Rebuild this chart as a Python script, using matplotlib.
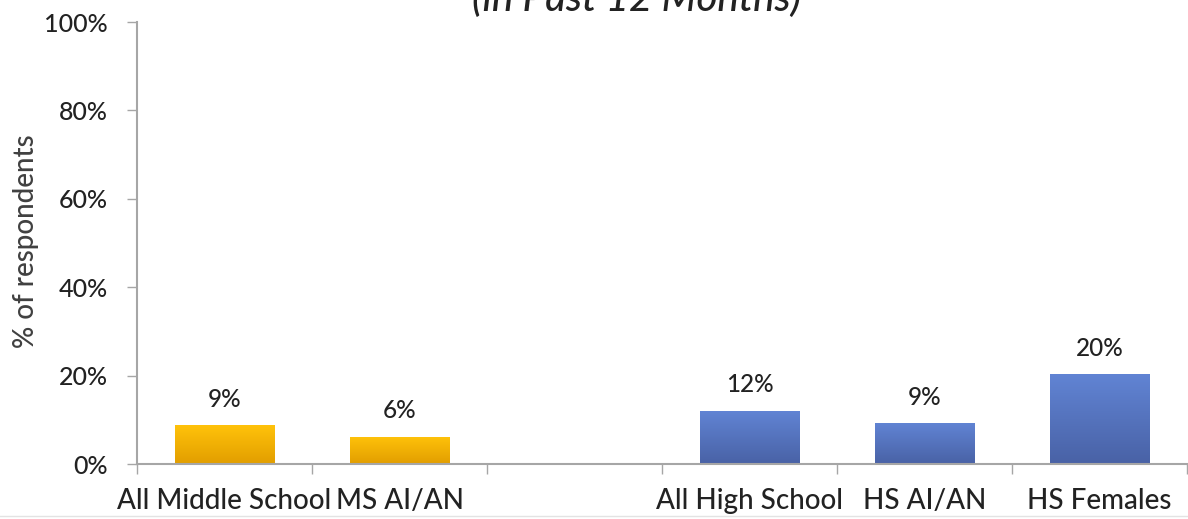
import numpy as np
import matplotlib
matplotlib.use("Agg")
import matplotlib.pyplot as plt
from matplotlib.colors import LinearSegmentedColormap
from matplotlib.lines import Line2D

categories = ["All Middle School", "MS AI/AN", "", "All High School", "HS AI/AN", "HS Females"]
values = [8.8, 6.2, np.nan, 12.1, 9.3, 20.4]
value_labels = ["9%", "6%", "", "12%", "9%", "20%"]
groups = ["ms", "ms", "", "hs", "hs", "hs"]
yticks = [0, 20, 40, 60, 80, 100]
title = "(in Past 12 Months)"
ylabel = "% of respondents"

# top / bottom colours of the gradient fill
grad = {
    "ms": ("#FFC20A", "#E29E00"),
    "hs": ("#6184D4", "#4962A6"),
}

plt.rcParams["font.family"] = ["Lato", "DejaVu Sans"]
TXT = "#222222"

fig = plt.figure(figsize=(11.88, 5.19), dpi=100)
ax = fig.add_axes([137 / 1188, 1 - 464 / 519, 1050 / 1188, 442 / 519])

x = np.arange(len(categories))
bars = ax.bar(x, np.nan_to_num(values), width=0.57, color="none", edgecolor="none", zorder=2)

for b, g, v, lab in zip(bars, groups, values, value_labels):
    if not g:
        continue
    top, bot = grad[g]
    cmap = LinearSegmentedColormap.from_list(g, [bot, top])
    x0, y0 = b.get_x(), b.get_y()
    w, h = b.get_width(), b.get_height()
    img = ax.imshow(np.linspace(0, 1, 64).reshape(-1, 1), cmap=cmap, origin="lower",
                    extent=[x0, x0 + w, y0, y0 + h], aspect="auto", zorder=2)
    img.set_clip_path(b)
    ax.text(x0 + w / 2, h + 3.2, lab, ha="center", va="bottom", fontsize=17.5,
            fontweight="medium", color=TXT)

ax.set_xlim(-0.5, len(categories) - 0.5)
ax.set_ylim(0, 100)

ax.set_yticks(yticks)
ax.set_yticklabels([f"{t}%" for t in yticks], fontsize=18, fontweight="medium", color=TXT)
ax.tick_params(axis="y", length=7, width=1, color="#a6a6a6", pad=14)

ax.set_xticks(x)
ax.set_xticklabels(categories, fontsize=20, fontweight="medium", color=TXT)
ax.tick_params(axis="x", which="major", length=0, pad=17)
ax.set_xticks(np.arange(len(categories) + 1) - 0.5, minor=True)
ax.tick_params(axis="x", which="minor", length=7, width=1, color="#a6a6a6")

for side in ["top", "right"]:
    ax.spines[side].set_visible(False)
for side in ["left", "bottom"]:
    ax.spines[side].set_color("#a6a6a6")
    ax.spines[side].set_linewidth(1.5)

fig.text(26 / 1188, 1 - 241 / 519, ylabel, rotation=90, ha="center", va="center",
         fontsize=20, fontweight="medium", color="#404040")
# title sits mostly above the crop, as in the source slide
fig.text(637 / 1188, 1 - 11 / 519, title, ha="center", va="baseline",
         fontsize=29, style="italic", fontweight="medium", color=TXT)

# faint slide border at the bottom
fig.add_artist(Line2D([0, 1], [1 - 516 / 519] * 2, color="#e3e3e3", lw=1))

fig.savefig("out.png", dpi=100)
